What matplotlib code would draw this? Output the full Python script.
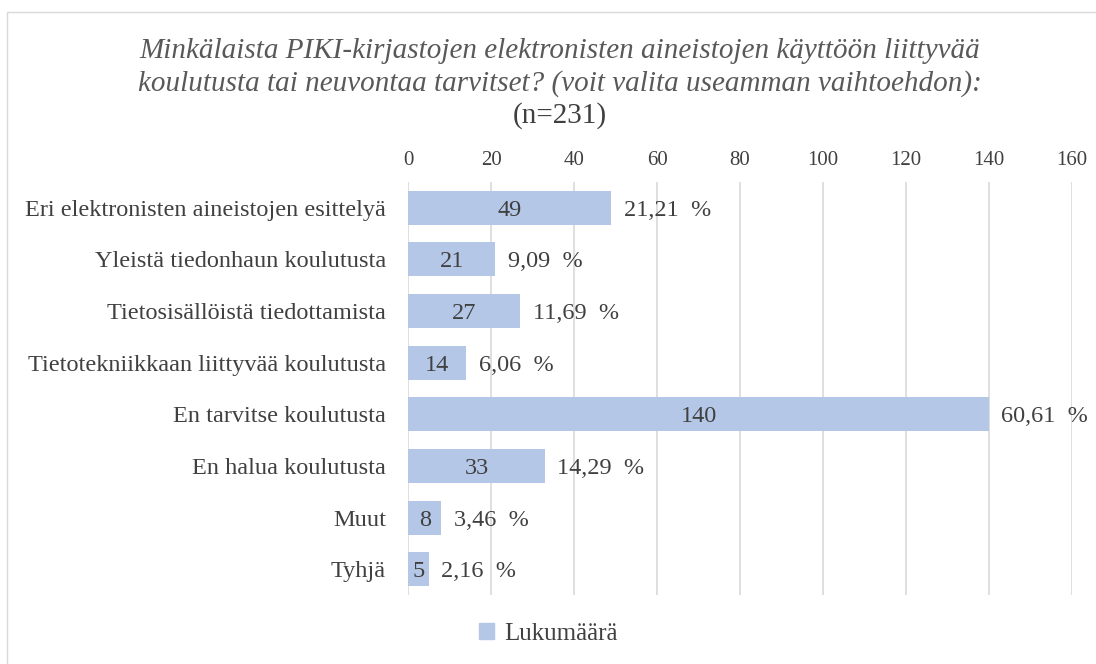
import matplotlib.pyplot as plt
from matplotlib.patches import Rectangle, Patch

categories = ["Eri elektronisten aineistojen esittelyä",
              "Yleistä tiedonhaun koulutusta",
              "Tietosisällöistä tiedottamista",
              "Tietotekniikkaan liittyvää koulutusta",
              "En tarvitse koulutusta",
              "En halua koulutusta",
              "Muut",
              "Tyhjä"]
counts = [49, 21, 27, 14, 140, 33, 8, 5]
percents = ["21,21  %", "9,09  %", "11,69  %", "6,06  %", "60,61  %", "14,29  %", "3,46  %", "2,16  %"]

plt.rcParams['font.family'] = ['Liberation Serif', 'DejaVu Serif']
text_col = "#404040"
bar_col = "#B4C7E7"

fig = plt.figure(figsize=(10.96, 6.64), dpi=100)
ax = fig.add_axes([0.3723, 0.1039, 0.6058, 0.622])

y = list(range(len(categories)))
ax.barh(y, counts, height=0.66, color=bar_col, zorder=2)
ax.set_ylim(len(categories) - 0.5, -0.5)
ax.set_xlim(0, 160)
ax.set_xticks(range(0, 161, 20))
ax.xaxis.tick_top()
ax.set_yticks(y)
ax.set_yticklabels(categories)
ax.tick_params(axis='both', length=0, colors=text_col, labelsize=17.5)
ax.tick_params(axis='x', pad=9, labelsize=15)
ax.tick_params(axis='y', pad=16)
ax.grid(axis='x', color="#D9D9D9", linewidth=1.2, zorder=0)
for s in ax.spines.values():
    s.set_visible(False)

for i, (c, p) in enumerate(zip(counts, percents)):
    ax.text(c / 2, i, str(c), ha='center', va='center_baseline', color=text_col, fontsize=17.5, zorder=3)
    ax.text(c + 3, i, p, ha='left', va='center_baseline', color=text_col, fontsize=17.5, zorder=3)

fig.text(0.511, 0.898, "Minkälaista PIKI-kirjastojen elektronisten aineistojen käyttöön liittyvää\n"
         "koulutusta tai neuvontaa tarvitset? (voit valita useamman vaihtoehdon):",
         ha='center', va='center', style='italic', fontsize=21, color="#595959", linespacing=1.3)
fig.text(0.511, 0.826, "(n=231)", ha='center', va='center', fontsize=21, color=text_col)

fig.legend(handles=[Patch(color=bar_col, label="Lukumäärä")], loc='center',
           bbox_to_anchor=(0.5, 0.045), frameon=False, fontsize=18,
           handlelength=0.6, handleheight=0.6, handletextpad=0.4, labelcolor=text_col)

fig.add_artist(Rectangle((7 / 1096, -0.01), 1.0, 1 - 12 / 664 + 0.01, transform=fig.transFigure,
                         fill=False, edgecolor="#D9D9D9", linewidth=1))

fig.savefig("out.png", dpi=100)
